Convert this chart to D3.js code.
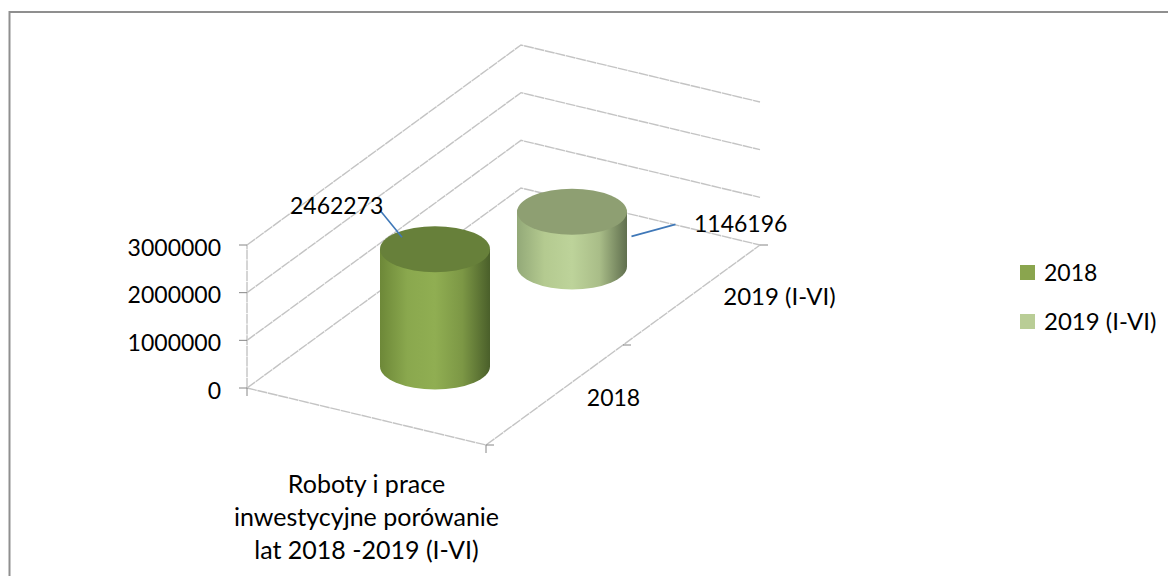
<!DOCTYPE html>
<html>
<head>
<meta charset="utf-8">
<script src="https://cdn.jsdelivr.net/npm/d3@7"></script>
<style>
	html, body { margin: 0; padding: 0; background: #fff; }
	text { font-family: Lato, "Open Sans", sans-serif; font-size: 23px; fill: #000; }
	.column-label { font-size: 25px; }
	.wide-label { font-size: 24px; }
</style>
</head>
<body>
<svg id="chart" width="1168" height="576"></svg>
<script>
// Values
const columnCategory = ["Roboty i prace", "inwestycyjne porówanie", "lat 2018 -2019 (I-VI)"];
const seriesNames = ["2018", "2019 (I-VI)"];
const seriesValues = [2462273, 1146196];
const valueTicks = [0, 1000000, 2000000, 3000000];

const sideStops = [
	["#6d8838", "#8aa84e", "#90ae52", "#7c9745", "#4a5f2a"],
	["#93a978", "#b4ca90", "#bdd39a", "#a9bd88", "#606f4e"]
];
const topColors = ["#67803a", "#8e9f72"];
const legendColors = ["#8aa54e", "#b9cd96"];

const svg = d3.select("#chart");

// Oblique projection of the 3D box: u runs across, v runs into the depth
const origin = { x: 247, y: 388 };
const uVec = { x: 239, y: 57 };
const vVec = { x: 274, y: -200 };

const heightScale = d3.scaleLinear().domain([0, 3000000]).range([0, 143]);
const depthScale = d3.scalePoint().domain(seriesNames).range([0, 1]).padding(0.5);

const project = (u, v, value) => ({
	x: origin.x + u * uVec.x + v * vVec.x,
	y: origin.y + u * uVec.y + v * vVec.y - heightScale(value)
});

const line = d3.line().x(d => d.x).y(d => d.y);
const gridColor = "#c4c4c4";
const tickColor = "#868686";

// Outer chart border
svg.append("path")
	.attr("d", "M9.5,576V12H1168")
	.attr("fill", "none")
	.attr("stroke", "#8f8f8f")
	.attr("stroke-width", 2);

// Wall gridlines and floor
const grid = svg.append("g")
	.attr("fill", "none")
	.attr("stroke", gridColor)
	.attr("stroke-width", 1.4)
	.attr("stroke-dasharray", "10 0.7");
grid.selectAll(".grid-line")
	.data(valueTicks)
	.join("path")
	.attr("class", "grid-line")
	.attr("d", d => line([project(0, 0, d), project(0, 1, d), project(1, 1, d)]));
grid.append("path").attr("d", line([project(0, 0, 0), project(1, 0, 0), project(1, 1, 0)]));
grid.append("path")
	.attr("d", line([project(0, 0, 0), project(0, 0, 3000000)]))
	.attr("stroke-dasharray", null);

// Tick marks
const ticks = svg.append("g").attr("stroke", tickColor).attr("stroke-width", 1);
ticks.selectAll(".value-tick")
	.data(valueTicks)
	.join("line")
	.attr("class", "value-tick")
	.attr("x1", d => project(0, 0, d).x - 8)
	.attr("x2", d => project(0, 0, d).x)
	.attr("y1", d => project(0, 0, d).y)
	.attr("y2", d => project(0, 0, d).y);
ticks.selectAll(".column-tick")
	.data([0, 1])
	.join("line")
	.attr("class", "column-tick")
	.attr("x1", d => project(d, 0, 0).x)
	.attr("x2", d => project(d, 0, 0).x)
	.attr("y1", d => project(d, 0, 0).y)
	.attr("y2", d => project(d, 0, 0).y + 8);
ticks.selectAll(".depth-tick")
	.data([0, 0.5, 1])
	.join("line")
	.attr("class", "depth-tick")
	.attr("x1", d => project(1, d, 0).x)
	.attr("x2", d => project(1, d, 0).x + 8)
	.attr("y1", d => project(1, d, 0).y)
	.attr("y2", d => project(1, d, 0).y);

// Value axis labels
svg.selectAll(".value-label")
	.data(valueTicks)
	.join("text")
	.attr("class", "value-label")
	.attr("text-anchor", "end")
	.attr("x", d => project(0, 0, d).x - 26)
	.attr("y", d => project(0, 0, d).y + 10.5)
	.text(d => d);

// Depth axis labels
const depthLabelOffset = [{ dx: 59, dy: 11 }, { dx: 88, dy: 10 }];
svg.selectAll(".depth-label")
	.data(seriesNames)
	.join("text")
	.attr("class", (d, i) => i ? "depth-label wide-label" : "depth-label")
	.attr("text-anchor", "middle")
	.attr("x", (d, i) => project(1, depthScale(d), 0).x + depthLabelOffset[i].dx)
	.attr("y", (d, i) => project(1, depthScale(d), 0).y + depthLabelOffset[i].dy)
	.text(d => d);

// Column axis label, three lines
svg.selectAll(".column-label")
	.data(columnCategory)
	.join("text")
	.attr("class", "column-label")
	.attr("text-anchor", "middle")
	.attr("x", project(0.5, 0, 0).x)
	.attr("y", (d, i) => 493 + i * 33)
	.text(d => d);

// Side gradients of the cylinders
const defs = svg.append("defs");
sideStops.forEach((stops, i) => {
	const gradient = defs.append("linearGradient").attr("id", "side-" + i);
	stops.forEach((c, j) => {
		gradient.append("stop")
			.attr("offset", j / (stops.length - 1))
			.attr("stop-color", c);
	});
});

// Cylinders
const rx = 55;
const ry = 23;
const leaderOffset = [
	{ x1: -33, y1: -12, x2: -55, y2: -39, tx: -145, ty: -35 },
	{ x1: 59.5, y1: 24.5, x2: 103.5, y2: 12.5, tx: 122, ty: 20 }
];

seriesNames.forEach((name, i) => {
	const value = seriesValues[i];
	const base = project(0.5, depthScale(name), 0);
	const top = project(0.5, depthScale(name), value);
	const g = svg.append("g").attr("class", "cylinder");

	g.append("path")
		.attr("d", `M${top.x - rx},${top.y}L${base.x - rx},${base.y}A${rx},${ry} 0 0 0 ${base.x + rx},${base.y}L${top.x + rx},${top.y}Z`)
		.attr("fill", `url(#side-${i})`);
	g.append("ellipse")
		.attr("cx", top.x)
		.attr("cy", top.y)
		.attr("rx", rx)
		.attr("ry", ry)
		.attr("fill", topColors[i]);

	const off = leaderOffset[i];
	svg.append("line")
		.attr("x1", top.x + off.x1)
		.attr("y1", top.y + off.y1)
		.attr("x2", top.x + off.x2)
		.attr("y2", top.y + off.y2)
		.attr("stroke", "#3f78b8")
		.attr("stroke-width", 1.6);
	svg.append("text")
		.attr("class", "data-label")
		.attr("x", top.x + off.tx)
		.attr("y", top.y + off.ty)
		.text(value);
});

// Legend
const legend = svg.selectAll(".legend-item")
	.data(seriesNames)
	.join("g")
	.attr("class", "legend-item")
	.attr("transform", (d, i) => `translate(1020,${265 + i * 49})`);
legend.append("rect")
	.attr("width", 15)
	.attr("height", 15)
	.attr("fill", (d, i) => legendColors[i]);
legend.append("text")
	.attr("class", (d, i) => i ? "wide-label" : null)
	.attr("x", 24)
	.attr("y", 16)
	.text(d => d);
</script>
</body>
</html>
